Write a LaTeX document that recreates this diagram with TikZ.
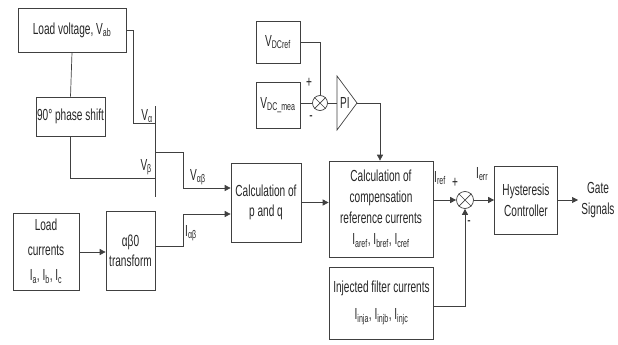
\documentclass[tikz,border=0pt]{standalone}
\usepackage{fontspec}
\setmainfont{Liberation Sans}[FakeStretch=0.63]
\usetikzlibrary{arrows.meta}
\begin{document}
\begin{tikzpicture}[x=1pt,y=-1pt,
  every node/.style={font=\fontsize{16}{21}\selectfont, text=black!85},
  blk/.style={draw=black!75, line width=0.7pt, align=center, inner sep=1pt},
  wire/.style={draw=black!75, line width=0.7pt},
  arr/.style={wire, -{Triangle[length=6pt,width=6pt]}},
  sumj/.style={draw=black!75, line width=0.7pt, circle, inner sep=0pt, minimum size=#1},
  lbl/.style={inner sep=0pt}
]
\useasboundingbox (0,0) rectangle (618,345);
% blocks
\node[blk, minimum width=108, minimum height=44] (lv) at (72,30) {Load voltage, V\textsubscript{ab}};
\node[blk, minimum width=69, minimum height=39] (ph) at (70.5,116.5) {90° phase shift};
\node[blk, minimum width=66, minimum height=77, font=\fontsize{16}{25}\selectfont] (lc) at (46,251.5) {Load\\currents\\I\textsubscript{a}, I\textsubscript{b}, I\textsubscript{c}};
\node[blk, minimum width=49, minimum height=79, font=\fontsize{16}{20}\selectfont] (ab) at (130.5,250.5) {αβ0\\transform};
\node[blk, minimum width=70, minimum height=79, font=\fontsize{16}{20}\selectfont] (pq) at (266,202.5) {Calculation of\\p and q};
\node[blk, minimum width=104, minimum height=96] (cc) at (381,209) {Calculation of\\compensation\\reference currents\\I\textsubscript{aref}, I\textsubscript{bref}, I\textsubscript{cref}};
\node[blk, minimum width=104, minimum height=72, font=\fontsize{16}{27}\selectfont] (inj) at (381.5,303) {Injected filter currents\\I\textsubscript{inja}, I\textsubscript{injb}, I\textsubscript{injc}};
\node[blk, minimum width=63, minimum height=68] (hy) at (526,200) {Hysteresis\\Controller};
\node[blk, minimum width=44, minimum height=42] (vr) at (278,42) {V\textsubscript{DCref}};
\node[blk, minimum width=44, minimum height=46] (vm) at (278,105) {V\textsubscript{DC\_mea}};
\node[lbl, align=center] (gs) at (598,200) {Gate\\Signals};
% summing junctions
\node[sumj=15] (s1) at (320,103) {};
\draw[wire] (s1.north west) -- (s1.south east) (s1.north east) -- (s1.south west);
\node[sumj=17] (s2) at (465,200) {};
\draw[wire] (s2.north west) -- (s2.south east) (s2.north east) -- (s2.south west);
% PI triangle
\coordinate (pit) at (337,76);
\coordinate (pib) at (337,130);
\coordinate (pia) at (357,103);
\draw[wire, line join=miter] (pit) -- (pia) -- (pib) -- cycle;
\node[lbl] (pil) at (345,103) {PI};
% bar for V alpha / V beta
\coordinate (bt) at (155,106);
\coordinate (bb) at (155,197);
\draw[wire] (bt) -- (bb);
% connectors
\draw[wire] (lv.east) -- (133,30) -- (133,123) -- (bt |- 0,123);
\draw[wire] (lv.south) -- (ph.north);
\draw[wire] (ph.south) -- (70.5,178) -- (bt |- 0,178);
\draw[arr] (bt |- 0,152) -- (183,152) -- (183,188) -- (pq.west |- 0,188);
\draw[arr] (lc.east |- 0,252) -- (ab.west |- 0,252);
\draw[arr] (ab.east |- 0,246) -- (183,246) -- (183,214) -- (pq.west |- 0,214);
\draw[arr] (pq.east) -- (cc.west |- pq.east);
\draw[wire] (vr.east) -- (s1.north |- vr.east) -- (s1.north);
\draw[wire] (vm.east |- s1.west) -- (s1.west);
\draw[wire] (s1.east) -- (pit |- s1.east);
\draw[arr] (pia) -- (380,103) -- (380,0 |- cc.north);
\draw[arr] (cc.east |- s2.west) -- (s2.west);
\draw[arr] (s2.east) -- (hy.west);
\draw[arr] (hy.east) -- (578,200);
\draw[arr] (inj.east |- 0,306) -- (s2.south |- 0,306) -- (s2.south);
% labels
\node[lbl, anchor=base east] (la) at (153,120) {V\textsubscript{α}};
\node[lbl, anchor=base east] (lb) at (152,170) {V\textsubscript{β}};
\node[lbl, anchor=base west] (lab) at (190,180) {V\textsubscript{αβ}};
\node[lbl, anchor=base west] (liab) at (185,236) {I\textsubscript{αβ}};
\node[lbl] (p1) at (309,83) {+};
\node[lbl] (m1) at (311,118) {-};
\node[lbl, anchor=base west] (lref) at (434,182) {I\textsubscript{ref}};
\node[lbl] (p2) at (455,183) {+};
\node[lbl, anchor=base west] (lerr) at (476,178) {I\textsubscript{err}};
\node[lbl] (m2) at (469,223) {-};
\end{tikzpicture}
\end{document}
